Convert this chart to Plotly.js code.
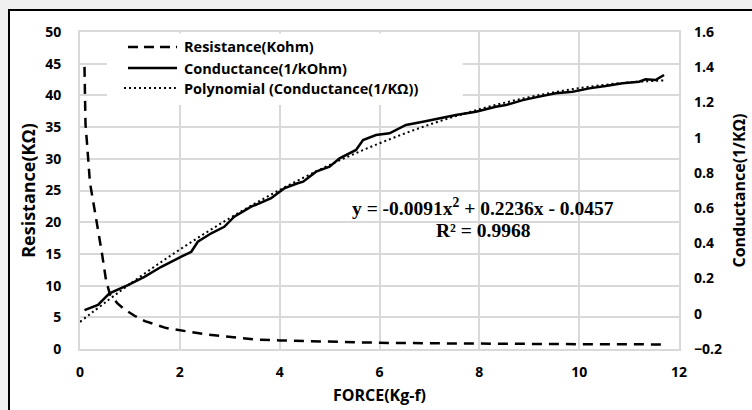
<!DOCTYPE html>
<html>
<head>
<meta charset="utf-8">
<script src="https://cdn.plot.ly/plotly-3.0.1.min.js"></script>
<style>
  html, body { margin: 0; padding: 0; background: #f0f0f0; width: 752px; height: 410px; overflow: hidden; }
  #frame { position: absolute; left: 8px; top: 9px; width: 780px; height: 440px; background: #ffffff;
           border-left: 2px solid #000; border-top: 2px solid #000; }
  #chart { position: absolute; left: 0; top: 0; width: 752px; height: 410px; }
</style>
</head>
<body>
<div id="frame"></div>
<div id="chart"></div>
<script>
// ---- data ----
const forceR = [0.09, 0.10, 0.11, 0.14, 0.20, 0.27, 0.34, 0.44, 0.52, 0.60, 0.75, 0.90, 1.10, 1.30, 1.73, 2.13, 2.53, 3.20, 3.50, 4.00, 5.00, 6.00, 7.00, 8.00, 9.00, 10.00, 11.00, 11.76];
const resistance = [44.5, 39, 35.5, 32.5, 26.2, 23, 19.9, 15.1, 10.9, 8.6, 7.2, 6.2, 5.2, 4.4, 3.3, 2.75, 2.3, 1.75, 1.5, 1.35, 1.15, 0.98, 0.9, 0.82, 0.78, 0.76, 0.74, 0.72];

const forceC = [0.09, 0.36, 0.59, 0.96, 1.29, 1.63, 2.03, 2.23, 2.36, 2.63, 2.89, 3.09, 3.43, 3.83, 3.96, 4.09, 4.36, 4.47, 4.73, 5.0, 5.2, 5.53, 5.67, 5.93, 6.2, 6.53, 6.87, 7.2, 7.53, 7.93, 8.33, 8.53, 8.87, 9.2, 9.53, 9.87, 10.2, 10.53, 10.87, 11.2, 11.33, 11.53, 11.7];
const conductance = [0.021, 0.05, 0.116, 0.163, 0.21, 0.267, 0.324, 0.352, 0.409, 0.457, 0.494, 0.551, 0.608, 0.656, 0.684, 0.712, 0.741, 0.75, 0.807, 0.835, 0.883, 0.93, 0.987, 1.015, 1.025, 1.072, 1.09, 1.11, 1.129, 1.147, 1.176, 1.185, 1.213, 1.233, 1.252, 1.261, 1.28, 1.293, 1.309, 1.318, 1.331, 1.327, 1.356];

const polyX = [0, 1, 2, 3, 4, 5, 6, 7, 8, 9, 10, 11, 11.7];
const polyY = [-0.046, 0.169, 0.365, 0.543, 0.703, 0.845, 0.968, 1.074, 1.161, 1.230, 1.281, 1.314, 1.325];

const seriesNames = ["Resistance(Kohm)", "Conductance(1/kOhm)", "Polynomial (Conductance(1/KΩ))"];
const equationText = "y = -0.0091x<sup>2</sup> + 0.2236x - 0.0457";
const r2Text = "R² = 0.9968";

// ---- styling ----
const GRID = "#d9d9d9";
const tickFont = { family: "Open Sans", size: 14, color: "#000", weight: 700 };

const traces = [
  { x: forceR, y: resistance, type: "scatter", mode: "lines", name: seriesNames[0], yaxis: "y",
    line: { color: "#000", width: 2.5, dash: "10px,7px" }, showlegend: false },
  { x: forceC, y: conductance, type: "scatter", mode: "lines", name: seriesNames[1], yaxis: "y2",
    line: { color: "#000", width: 2.5 }, showlegend: false },
  { x: polyX, y: polyY, type: "scatter", mode: "lines", name: seriesNames[2], yaxis: "y2",
    line: { color: "#000", width: 2, dash: "2px,3px", shape: "spline" }, showlegend: false }
];

// custom legend (paper coordinates)
const legRows = [0.9527, 0.8864, 0.8233];
const legDash = ["10px,6px", "solid", "2px,3px"];
const shapes = [
  { type: "rect", xref: "paper", yref: "paper", x0: 0.045, x1: 0.639, y0: 0.77, y1: 0.995,
    fillcolor: "#fff", line: { width: 0 }, layer: "above" }
];
const annotations = [];
legRows.forEach((yy, i) => {
  shapes.push({ type: "line", xref: "paper", yref: "paper",
    x0: i === 2 ? 0.0735 : 0.0801, x1: i === 2 ? 0.160 : 0.162, y0: yy, y1: yy,
    line: { color: "#000", width: i === 2 ? 2 : 2.5, dash: legDash[i] }, layer: "above" });
  annotations.push({ xref: "paper", yref: "paper", x: 0.170, y: yy, xanchor: "left", yanchor: "middle",
    text: seriesNames[i], showarrow: false, font: { family: "Open Sans", size: 14.5, color: "#000", weight: 700 } });
});
annotations.push({ xref: "paper", yref: "paper", x: 0.673, y: 0.447, xanchor: "center", yanchor: "middle",
  text: equationText, showarrow: false, font: { family: "Liberation Serif", size: 19.5, color: "#000", weight: 700 } });
annotations.push({ xref: "paper", yref: "paper", x: 0.673, y: 0.375, xanchor: "center", yanchor: "middle",
  text: r2Text, showarrow: false, font: { family: "Liberation Serif", size: 19.5, color: "#000", weight: 700 } });

const layout = {
  width: 752, height: 410,
  margin: { l: 80, r: 73, t: 32, b: 61 },
  paper_bgcolor: "rgba(0,0,0,0)", plot_bgcolor: "rgba(0,0,0,0)",
  showlegend: false,
  xaxis: {
    range: [0, 12], dtick: 2, tick0: 0, showgrid: true, gridcolor: GRID, gridwidth: 2,
    zeroline: false, showline: true, linecolor: GRID, linewidth: 2, mirror: true,
    ticks: "", ticklabelstandoff: 9, tickfont: tickFont,
    title: { text: "FORCE(Kg-f)", font: { family: "Open Sans", size: 16, color: "#000", weight: 700 }, standoff: 10 }
  },
  yaxis: {
    range: [0, 50], dtick: 5, tick0: 0, showgrid: true, gridcolor: GRID, gridwidth: 2,
    zeroline: false, showline: true, linecolor: GRID, linewidth: 2, mirror: true,
    ticks: "", ticklabelstandoff: 14, tickfont: tickFont,
    title: { text: "Resistance(KΩ)", font: { family: "Open Sans", size: 18, color: "#000", weight: 700 }, standoff: 5 }
  },
  yaxis2: {
    overlaying: "y", side: "right", range: [-0.2, 1.6], dtick: 0.2, tick0: -0.2,
    showgrid: false, zeroline: false, showline: false,
    ticks: "", ticklabelstandoff: 14, tickfont: tickFont,
    title: { text: "Conductance(1/KΩ)", font: { family: "Open Sans", size: 16, color: "#000", weight: 700 }, standoff: 12 }
  },
  shapes: shapes,
  annotations: annotations
};

Plotly.newPlot("chart", traces, layout, { displayModeBar: false, staticPlot: true });
</script>
</body>
</html>
